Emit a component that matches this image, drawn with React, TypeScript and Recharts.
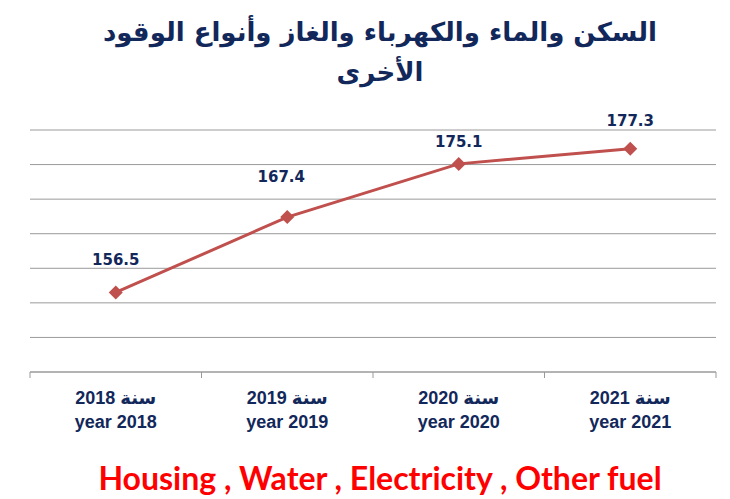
import { CartesianGrid, LabelList, Line, LineChart, XAxis, YAxis } from "recharts";

const years = ["2018", "2019", "2020", "2021"];
const arabicLabels = ["سنة 2018", "سنة 2019", "سنة 2020", "سنة 2021"];
const englishLabels = ["year 2018", "year 2019", "year 2020", "year 2021"];
const values = [156.5, 167.4, 175.1, 177.3];
const yTicks = [145, 150, 155, 160, 165, 170, 175, 180];

const titleLine1 = "السكن والماء والكهرباء والغاز وأنواع الوقود";
const titleLine2 = "الأخرى";
const footer = "Housing , Water , Electricity , Other fuel";

const data = years.map((year, i) => ({ year, value: values[i] }));

// label placement tweaks, the way the labels sit in the original
const labelShift = [
  { dx: 0, dy: -27 },
  { dx: -6, dy: -35 },
  { dx: 0, dy: -17 },
  { dx: 0, dy: -23 },
];

const NAVY = "#12275A";
const LINE = "#C0504D";
const GRID = "#9a9a9a";

const YearTick = (props: any) => {
  const { x, y, payload, index, visibleTicksCount } = props;
  const half = payload.offset ?? 86;
  return (
    <g>
      <line x1={x - half} x2={x - half} y1={y} y2={y + 6} stroke={GRID} />
      {index === visibleTicksCount - 1 && (
        <line x1={x + half} x2={x + half} y1={y} y2={y + 6} stroke={GRID} />
      )}
      <text
        x={x}
        y={y + 32}
        textAnchor="middle"
        fill={NAVY}
        fontSize={18}
        fontWeight="bold"
        fontFamily="'Liberation Sans', 'DejaVu Sans', sans-serif"
      >
        {arabicLabels[index]}
      </text>
      <text
        x={x}
        y={y + 56}
        textAnchor="middle"
        fill={NAVY}
        fontSize={18}
        fontWeight="bold"
        fontFamily="'Liberation Sans', sans-serif"
      >
        {englishLabels[index]}
      </text>
    </g>
  );
};

const ValueLabel = (props: any) => {
  const { x, y, value, index } = props;
  const s = labelShift[index] ?? { dx: 0, dy: -25 };
  return (
    <text
      x={x + s.dx}
      y={y + s.dy}
      textAnchor="middle"
      fill={NAVY}
      fontSize={15}
      fontWeight="bold"
      fontFamily="'DejaVu Sans', sans-serif"
    >
      {value}
    </text>
  );
};

const Diamond = (props: any) => {
  const { cx, cy } = props;
  const r = 7;
  return (
    <path
      d={`M${cx},${cy - r}L${cx + r},${cy}L${cx},${cy + r}L${cx - r},${cy}Z`}
      fill={LINE}
    />
  );
};

const App = () => {
  return (
    <div
      style={{
        position: "relative",
        width: 722,
        height: 491,
        marginLeft: -2,
        marginTop: -2,
        borderLeft: "2px solid #8c8c8c",
        borderTop: "2px solid #8c8c8c",
        background: "#fff",
        overflow: "hidden",
      }}
    >
      <div
        style={{
          position: "absolute",
          left: 11,
          top: 4,
          width: 722,
          textAlign: "center",
          direction: "rtl",
          color: NAVY,
          fontFamily: "'DejaVu Sans', sans-serif",
          fontWeight: "bold",
          fontSize: 26,
          lineHeight: "40px",
        }}
      >
        <div>{titleLine1}</div>
        <div>{titleLine2}</div>
      </div>
      <LineChart
        width={722}
        height={491}
        margin={{ top: 122, right: 14, left: 22, bottom: 47 }}
        data={data}
      >
        <CartesianGrid vertical={false} stroke={GRID} />
        <XAxis
          dataKey="year"
          scale="band"
          height={80}
          stroke={GRID}
          tickLine={false}
          tickSize={0}
          tickMargin={0}
          interval={0}
          tick={<YearTick />}
        />
        <YAxis hide domain={[145, 180]} ticks={yTicks} />
        <Line
          type="linear"
          dataKey="value"
          stroke={LINE}
          strokeWidth={3}
          dot={<Diamond />}
          activeDot={false}
          isAnimationActive={false}
        >
          <LabelList dataKey="value" content={<ValueLabel />} />
        </Line>
      </LineChart>
      <div
        style={{
          position: "absolute",
          left: 11,
          top: 451,
          width: 722,
          textAlign: "center",
          color: "#FF0000",
          fontFamily: "Lato, sans-serif",
          fontWeight: "bold",
          fontSize: 32,
          lineHeight: "38px",
        }}
      >
        {footer}
      </div>
    </div>
  );
};

export default App;
